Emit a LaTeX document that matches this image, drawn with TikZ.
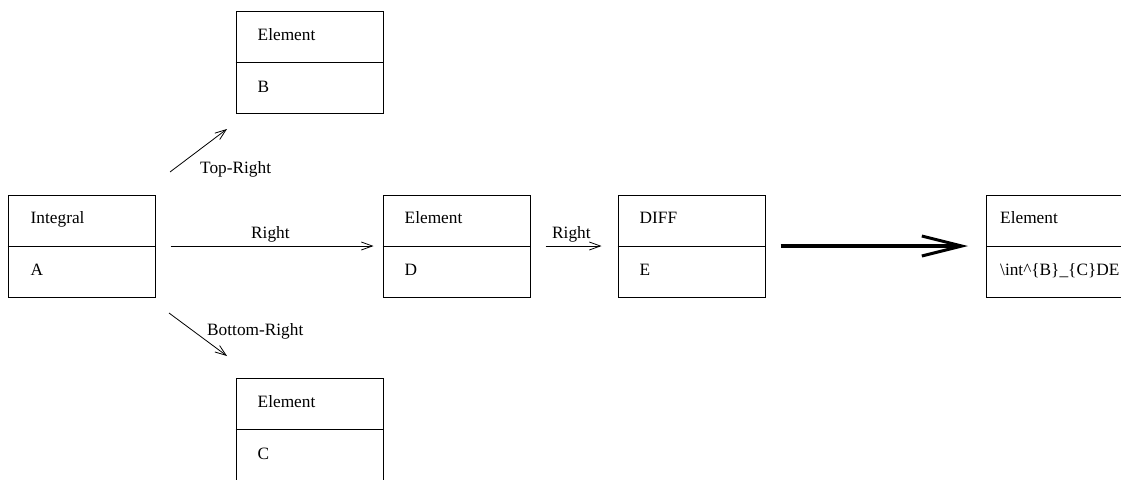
\documentclass[tikz,border=0pt]{standalone}
\usepackage{fontspec}
\setmainfont{Liberation Serif}
\usetikzlibrary{arrows.meta,calc}

\begin{document}
\begin{tikzpicture}[x=1pt,y=-1pt,
  every node/.style={font=\fontsize{17.3}{20}\selectfont},
  umlbox/.style={draw,line width=1pt,minimum width=147pt,minimum height=102pt,inner sep=0pt},
  boxtext/.style={anchor=base west,inner sep=0pt},
  flowarrow/.style={line width=0.8pt,-{Straight Barb[length=11pt,width=8pt]}},
  bigarrow/.style={line width=3.4pt,-{Straight Barb[length=40pt,width=20pt,line width=3pt]}},
  arrowlabel/.style={anchor=base west,inner sep=0pt}
]
\useasboundingbox (0,0) rectangle (1121,479);

% class boxes: a header row and a value row
\node[umlbox] (A) at (81.5,246) {};
\node[umlbox] (B) at (309.5,62.5) {};
\node[umlbox] (C) at (309.5,429.5) {};
\node[umlbox] (D) at (456.5,246) {};
\node[umlbox] (E) at (691.5,246) {};
\node[umlbox] (F) at (1060,246) {};

\foreach \b in {A,B,C,D,E,F}
  \draw[line width=1pt] (\b.west) -- (\b.east);

% box texts
\node[boxtext] (At) at ($(A.north west)+(23,29)$) {Integral};
\node[boxtext] (Ab) at ($(A.north west)+(23,81)$) {A};
\node[boxtext] (Bt) at ($(B.north west)+(22,29)$) {Element};
\node[boxtext] (Bb) at ($(B.north west)+(22,81)$) {B};
\node[boxtext] (Ct) at ($(C.north west)+(22,29)$) {Element};
\node[boxtext] (Cb) at ($(C.north west)+(22,81)$) {C};
\node[boxtext] (Dt) at ($(D.north west)+(22,29)$) {Element};
\node[boxtext] (Db) at ($(D.north west)+(22,81)$) {D};
\node[boxtext] (Et) at ($(E.north west)+(22,29)$) {DIFF};
\node[boxtext] (Eb) at ($(E.north west)+(22,81)$) {E};
\node[boxtext] (Ft) at ($(F.north west)+(14,29)$) {Element};
\node[boxtext] (Fb) at ($(F.north west)+(14,81)$) {\textbackslash int\textasciicircum\{B\}\_\{C\}DE};

% end points of the diagonal connectors
\coordinate (trS) at (170,172);
\coordinate (trE) at (227,129);
\coordinate (brS) at (169,313);
\coordinate (brE) at (227,356);

% connectors
\draw[flowarrow] (trS) -- (trE);
\draw[flowarrow] (brS) -- (brE);
\draw[flowarrow,shorten <=15pt,shorten >=9pt] (A.east) -- (D.west);
\draw[flowarrow,shorten <=15pt,shorten >=16pt] (D.east) -- (E.west);
\draw[bigarrow,shorten <=15pt,shorten >=18pt] (E.east) -- (F.west);

% connector labels
\node[arrowlabel] (lTR) at (200,173) {Top-Right};
\node[arrowlabel] (lBR) at (207,335) {Bottom-Right};
\node[arrowlabel] (lR1) at (251,238) {Right};
\node[arrowlabel] (lR2) at (552,238) {Right};
\end{tikzpicture}
\end{document}
